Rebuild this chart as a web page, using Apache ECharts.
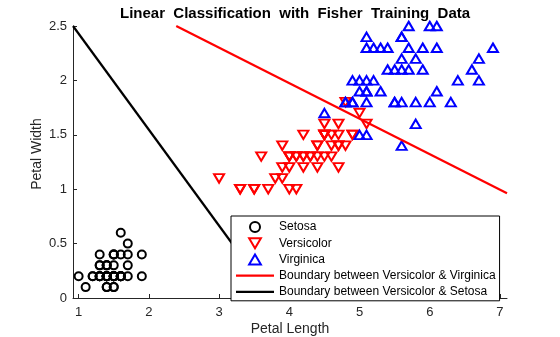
<!DOCTYPE html>
<html>
<head>
<meta charset="utf-8">
<script src="https://cdn.jsdelivr.net/npm/echarts@6/dist/echarts.min.js"></script>
<style>html,body{margin:0;padding:0;background:#fff}#c{width:560px;height:337px}</style>
</head>
<body>
<div id="c"></div>
<script>
const titleText = 'Linear  Classification  with  Fisher  Training  Data';
const xLabel = 'Petal Length';
const yLabel = 'Petal Width';
const xTicks = [1, 2, 3, 4, 5, 6, 7];
const yTicks = [0, 0.5, 1, 1.5, 2, 2.5];
const seriesNames = ['Setosa', 'Versicolor', 'Virginica',
  'Boundary between Versicolor & Virginica', 'Boundary between Versicolor & Setosa'];

const setosaLength = [1.4,1.4,1.3,1.5,1.4,1.7,1.4,1.5,1.4,1.5,1.5,1.6,1.4,1.1,1.2,1.5,1.3,1.4,1.7,1.5,1.7,1.5,1.0,1.7,1.9,1.6,1.6,1.5,1.4,1.6,1.6,1.5,1.5,1.4,1.5,1.2,1.3,1.4,1.3,1.5,1.3,1.3,1.3,1.6,1.9,1.4,1.6,1.4,1.5,1.4];
const setosaWidth  = [0.2,0.2,0.2,0.2,0.2,0.4,0.3,0.2,0.2,0.1,0.2,0.2,0.1,0.1,0.2,0.4,0.4,0.3,0.3,0.3,0.2,0.4,0.2,0.5,0.2,0.2,0.4,0.2,0.2,0.2,0.2,0.4,0.1,0.2,0.2,0.2,0.2,0.1,0.2,0.2,0.3,0.3,0.2,0.6,0.4,0.3,0.2,0.2,0.2,0.2];

const versicolorLength = [4.7,4.5,4.9,4.0,4.6,4.5,4.7,3.3,4.6,3.9,3.5,4.2,4.0,4.7,3.6,4.4,4.5,4.1,4.5,3.9,4.8,4.0,4.9,4.7,4.3,4.4,4.8,5.0,4.5,3.5,3.8,3.7,3.9,5.1,4.5,4.5,4.7,4.4,4.1,4.0,4.4,4.6,4.0,3.3,4.2,4.2,4.2,4.3,3.0,4.1];
const versicolorWidth  = [1.4,1.5,1.5,1.3,1.5,1.3,1.6,1.0,1.3,1.4,1.0,1.5,1.0,1.4,1.3,1.4,1.5,1.0,1.5,1.1,1.8,1.3,1.5,1.2,1.3,1.4,1.4,1.7,1.5,1.0,1.1,1.0,1.2,1.6,1.5,1.6,1.5,1.3,1.3,1.3,1.2,1.4,1.2,1.0,1.3,1.2,1.3,1.3,1.1,1.3];

const virginicaLength = [6.0,5.1,5.9,5.6,5.8,6.6,4.5,6.3,5.8,6.1,5.1,5.3,5.5,5.0,5.1,5.3,5.5,6.7,6.9,5.0,5.7,4.9,6.7,4.9,5.7,6.0,4.8,4.9,5.6,5.8,6.1,6.4,5.6,5.1,5.6,6.1,5.6,5.5,4.8,5.4,5.6,5.1,5.1,5.9,5.7,5.2,5.0,5.2,5.4,5.1];
const virginicaWidth  = [2.5,1.9,2.1,1.8,2.2,2.1,1.7,1.8,1.8,2.5,2.0,1.9,2.1,2.0,2.4,2.3,1.8,2.2,2.3,1.5,2.3,2.0,2.0,1.8,2.1,1.8,1.8,1.8,2.1,1.6,1.9,2.0,2.2,1.5,1.4,2.3,2.4,1.8,1.8,2.1,2.4,2.3,1.9,2.3,2.5,2.3,1.9,2.0,2.3,1.8];

// boundary line end points
const boundaryVVx = [2.39, 7.1];
const boundaryVVy = [2.5, 0.963];
const boundaryVSx = [0.92, 3.753];
const boundaryVSy = [2.5, 0];

const zip = (a, b) => a.map((v, i) => [v, b[i]]);
const axisColor = '#262626';
const font = 'Liberation Sans, Arial, Helvetica, sans-serif';
const downTri = 'path://M0,0L10,0L5,8.5Z';
const upTri = 'path://M5,0L10,8.5L0,8.5Z';
const lineIcon = 'path://M0,0L38,0L38,2.2L0,2.2Z';

const chart = echarts.init(document.getElementById('c'), null, {renderer: 'canvas'});
chart.setOption({
  animation: false,
  backgroundColor: '#fff',
  title: {
    text: titleText, left: 115, top: 1,
    textStyle: {fontFamily: font, fontSize: 15, fontWeight: 'bold', color: '#000'}
  },
  grid: {left: 73, right: 53, top: 26, bottom: 39, containLabel: false, outerBoundsMode: 'none'},
  xAxis: {
    type: 'value', min: 0.92, max: 7.1,
    name: xLabel, nameLocation: 'middle', nameGap: 24, nameMoveOverlap: false,
    nameTextStyle: {fontFamily: font, fontSize: 14, color: axisColor},
    axisLine: {show: true, onZero: false, lineStyle: {color: axisColor, width: 1}},
    axisTick: {show: true, inside: true, length: 4, customValues: xTicks, lineStyle: {color: axisColor}},
    axisLabel: {customValues: xTicks, fontFamily: font, fontSize: 13, color: axisColor, margin: 8},
    splitLine: {show: false}
  },
  yAxis: {
    type: 'value', min: 0, max: 2.5, interval: 0.5,
    name: yLabel, nameLocation: 'middle', nameGap: 29, nameRotate: 90, nameMoveOverlap: false,
    nameTextStyle: {fontFamily: font, fontSize: 14, color: axisColor, padding: [0, 0, 0, 16]},
    axisLine: {show: true, onZero: false, lineStyle: {color: axisColor, width: 1}},
    axisTick: {show: true, inside: true, length: 4, lineStyle: {color: axisColor}},
    axisLabel: {fontFamily: font, fontSize: 13, color: axisColor, margin: 6},
    splitLine: {show: false}
  },
  legend: {
    orient: 'vertical', left: 231, top: 216,
    backgroundColor: '#fff', borderColor: '#000', borderWidth: 1,
    padding: [5, 4, 3, 5], itemGap: 4.2, itemWidth: 38, itemHeight: 10,
    textStyle: {fontFamily: font, fontSize: 12, color: '#000'},
    data: [
      {name: seriesNames[0], icon: 'circle'},
      {name: seriesNames[1], icon: downTri},
      {name: seriesNames[2], icon: upTri},
      {name: seriesNames[3], icon: lineIcon},
      {name: seriesNames[4], icon: lineIcon}
    ]
  },
  series: [
    {
      name: seriesNames[0], type: 'scatter', data: zip(setosaLength, setosaWidth),
      symbol: 'circle', symbolSize: 8,
      itemStyle: {color: 'rgba(0,0,0,0)', borderColor: '#000', borderWidth: 2, opacity: 1}
    },
    {
      name: seriesNames[1], type: 'scatter', data: zip(versicolorLength, versicolorWidth),
      symbol: downTri, symbolSize: [10, 8.5],
      itemStyle: {color: 'rgba(0,0,0,0)', borderColor: '#ff0000', borderWidth: 2, opacity: 1}
    },
    {
      name: seriesNames[2], type: 'scatter', data: zip(virginicaLength, virginicaWidth),
      symbol: upTri, symbolSize: [10, 8.5],
      itemStyle: {color: 'rgba(0,0,0,0)', borderColor: '#0000ff', borderWidth: 2, opacity: 1}
    },
    {
      name: seriesNames[3], type: 'line', data: zip(boundaryVVx, boundaryVVy),
      symbol: 'none', showSymbol: false, clip: true,
      lineStyle: {color: '#ff0000', width: 2.2}, itemStyle: {color: '#ff0000'}
    },
    {
      name: seriesNames[4], type: 'line', data: zip(boundaryVSx, boundaryVSy),
      symbol: 'none', showSymbol: false, clip: true,
      lineStyle: {color: '#000', width: 2.2}, itemStyle: {color: '#000'}
    }
  ]
});
</script>
</body>
</html>
